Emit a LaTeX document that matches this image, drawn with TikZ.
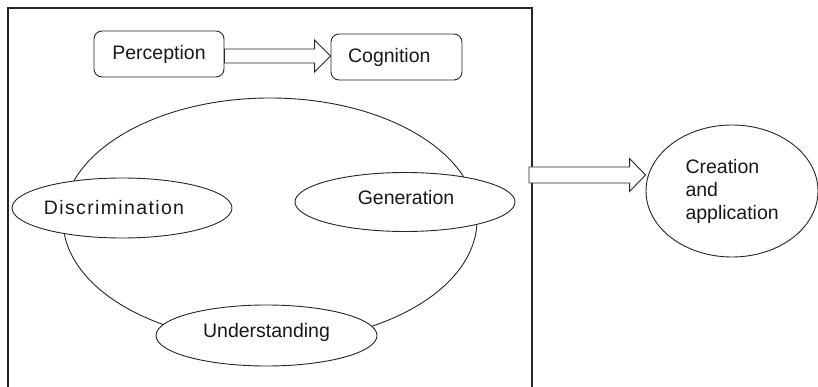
\documentclass[tikz,border=0pt]{standalone}
\usepackage{fontspec}
\setmainfont{Liberation Sans}
\usetikzlibrary{shapes.geometric,calc}

\tikzset{
  stroke/.style={draw=black!85, line width=0.9pt},
  roundbox/.style={stroke, rounded corners=8pt, inner sep=0pt, fill=white},
  oval/.style={stroke, ellipse, inner sep=0pt, fill=white},
  label/.style={font=\fontsize{19.5}{23}\selectfont, text=black!90},
  hollow/.style={draw=black!85, line width=0.9pt, fill=white, line join=miter}
}

% hollow block arrow from #1 to #2 (horizontal, at the height of #1)
\newcommand\blockarrow[4]{%
  \draw[hollow] let \p1=(#1), \p2=(#2) in
    (\x1,\y1+#3) -- (\x2-16pt,\y1+#3) -- (\x2-16pt,\y1+#4) -- (\x2,\y1)
    -- (\x2-16pt,\y1-#4) -- (\x2-16pt,\y1-#3) -- (\x1,\y1-#3) -- cycle;%
}

\begin{document}
\begin{tikzpicture}[x=1pt,y=-1pt]
  \useasboundingbox (0,0) rectangle (818,387);
  \fill[white] (0,0) rectangle (818,387);

  % frame, open below the picture edge
  \begin{scope}
    \clip (0,0) rectangle (818,387);
    \draw[stroke, line width=1.2pt] (8,400) -- (8,8) -- (532,8) -- (532,400);
  \end{scope}

  % top row
  \node[roundbox, minimum width=130pt, minimum height=46pt] (perc) at (159,54) {};
  \node[label] at (perc.center) {Perception};
  \node[roundbox, minimum width=131pt, minimum height=46pt] (cogn) at (396.5,57) {};
  \node[label, anchor=west] at ($(cogn.west)+(14,0)$) {Cognition};
  \coordinate (pstart) at (perc.east |- 0,56);
  \coordinate (ptip) at (cogn.west |- 0,56);
  \blockarrow{pstart}{ptip}{7pt}{16pt}

  % central cycle
  \node[stroke, ellipse, minimum width=414pt, minimum height=244pt] (big) at (270,220) {};
  \node[oval, minimum width=220pt, minimum height=60pt] (disc) at (122,208) {};
  \node[label] at ($(disc.center)+(-8,0)$) {\addfontfeature{LetterSpace=7}Discrimination};
  \node[oval, minimum width=220pt, minimum height=59pt] (gene) at (405,202) {};
  \node[label] at ($(gene.center)+(1,-4)$) {Generation};
  \node[oval, minimum width=221pt, minimum height=61pt] (unde) at (266.5,335.5) {};
  \node[label] at ($(unde.center)+(0,-3)$) {Understanding};

  % outcome
  \node[oval, minimum width=172pt, minimum height=132pt] (crea) at (732,191) {};
  \node[label, align=left, anchor=north west] at (682,156) {Creation\\and\\application};
  \coordinate (cstart) at (529,175);
  \coordinate (ctip) at (crea.west |- cstart);
  \blockarrow{cstart}{ctip}{8pt}{16.5pt}
\end{tikzpicture}
\end{document}
